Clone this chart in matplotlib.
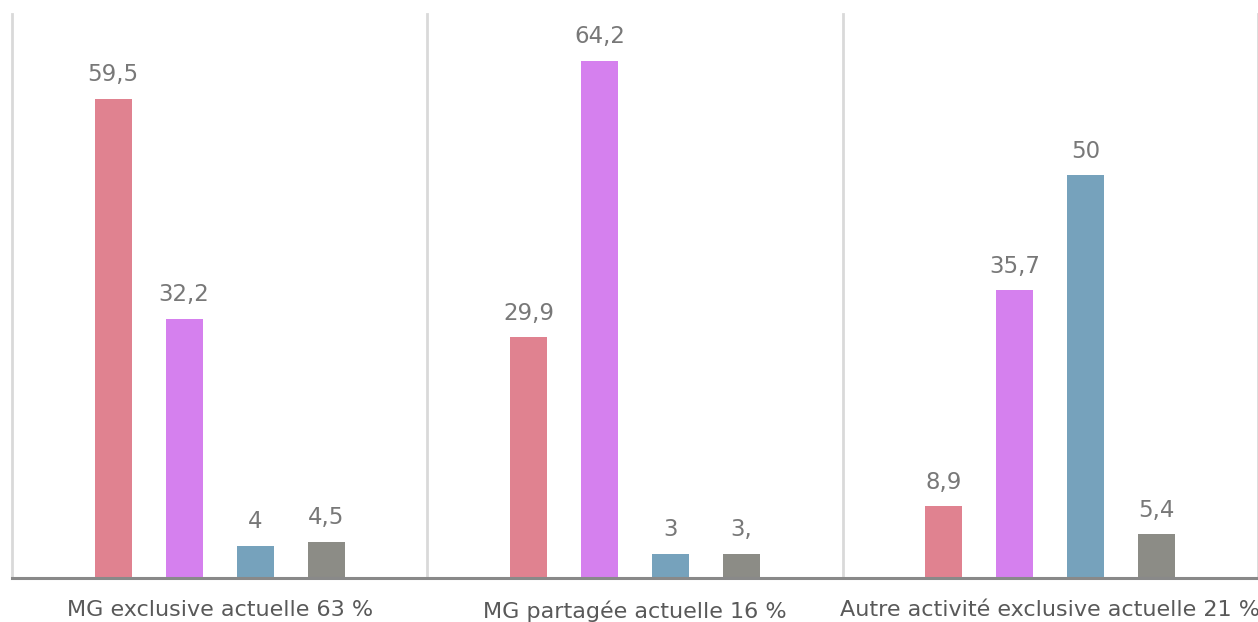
import matplotlib
matplotlib.use("Agg")
import matplotlib.pyplot as plt
import numpy as np

categories = ["MG exclusive actuelle 63 %", "MG partagée actuelle 16 %", "Autre activité exclusive actuelle 21 %"]
series_1 = [59.5, 29.9, 8.9]
series_2 = [32.2, 64.2, 35.7]
series_3 = [4.0, 3.0, 50.0]
series_4 = [4.5, 3.0, 5.4]
labels_1 = ["59,5", "29,9", "8,9"]
labels_2 = ["32,2", "64,2", "35,7"]
labels_3 = ["4", "3", "50"]
labels_4 = ["4,5", "3,", "5,4"]

colors = ["#E08290", "#D580EE", "#76A2BC", "#8C8C86"]
plt.rcParams['font.family'] = ['DejaVu Sans']

W, H = 1258, 622
fig = plt.figure(figsize=(W / 100, H / 100), dpi=100)
ax = fig.add_axes([12 / W, 1 - 578 / H, 1 - 12 / W, (578 - 14) / H])

x = np.arange(len(categories))
offsets = [-0.2565, -0.0855, 0.0855, 0.2565]
width = 0.089
all_series = [series_1, series_2, series_3, series_4]
all_labels = [labels_1, labels_2, labels_3, labels_4]
for s, lab, off, c in zip(all_series, all_labels, offsets, colors):
    bars = ax.bar(x + off, s, width=width, color=c, zorder=2)
    for b, t in zip(bars, lab):
        ax.annotate(t, (b.get_x() + b.get_width() / 2, b.get_height()),
                    xytext=(0, 9), textcoords="offset points",
                    ha="center", va="bottom", fontsize=16.5, color="#787878")

ax.set_xlim(-0.5, 2.5)
ax.set_ylim(0, 70)
for xv in [-0.5, 0.5, 1.5, 2.5]:
    ax.axvline(xv, color="#D9D9D9", lw=2, zorder=1, clip_on=False)
ax.axhline(0, color="#898989", lw=2.2, zorder=3, clip_on=False)
for sp in ax.spines.values():
    sp.set_visible(False)
ax.set_yticks([])
ax.set_xticks(x)
ax.set_xticklabels(categories, fontsize=16, color="#595959")
ax.tick_params(axis="x", length=0, pad=16)

fig.savefig("out.png", dpi=100)
